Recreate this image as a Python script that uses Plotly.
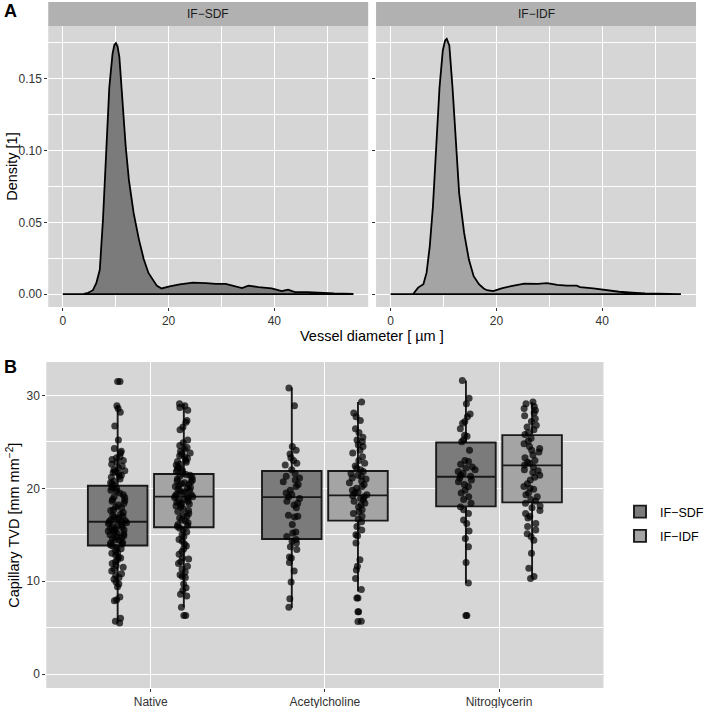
import plotly.graph_objects as go

# ---------------- Panel A: density curves ----------------
sdf_x = [0, 2, 4, 4.8, 5.7, 6.35, 7.0, 7.6, 8.2, 8.8, 9.4, 9.75, 10.05, 10.35, 10.7, 11.3, 11.9,
         12.5, 13.4, 14.4, 15.3, 16.2, 16.85, 17.8, 18.7, 19.6, 20.2, 22.1, 24.6, 27.1, 28.9,
         30.8, 32.6, 33.9, 35.1, 37.0, 39.5, 41.4, 42.6, 43.9, 46.3, 48.8, 51.3, 54.8]
sdf_d = [0, 0, 0.0002, 0.001, 0.0028, 0.0078, 0.017, 0.052, 0.098, 0.144, 0.167, 0.1735, 0.1747,
         0.1725, 0.165, 0.1327, 0.1026, 0.0795, 0.0564, 0.038, 0.0245, 0.0148, 0.0113, 0.0058,
         0.0040, 0.0050, 0.0055, 0.0069, 0.0081, 0.0077, 0.0072, 0.0072, 0.0052, 0.0042, 0.0060,
         0.0049, 0.0040, 0.0021, 0.0032, 0.0015, 0.0015, 0.0009, 0.0005, 0.0002]

idf_x = [0, 3, 4.3, 5.2, 6.2, 6.8, 7.4, 8.0, 8.6, 9.25, 9.87, 10.3, 10.61, 11.1, 11.7, 12.3,
         12.96, 13.9, 14.8, 15.7, 16.7, 17.6, 18.2, 19.4, 20.98, 22.8, 25.3, 27.8, 29.6, 31.5,
         33.3, 35.2, 35.8, 38.3, 40.7, 43.2, 45.7, 48.1, 54.9]
idf_d = [0, 0, 0.0003, 0.0046, 0.007, 0.015, 0.0333, 0.061, 0.1026, 0.144, 0.1696, 0.1765,
         0.1777, 0.173, 0.144, 0.105, 0.0703, 0.0426, 0.0241, 0.0125, 0.007, 0.004, 0.0028,
         0.0021, 0.004, 0.0056, 0.0074, 0.0072, 0.0077, 0.0065, 0.006, 0.006, 0.0049, 0.004,
         0.0028, 0.0017, 0.001, 0.0005, 0.0]

facet_labels = ["IF−SDF", "IF−IDF"]

# ---------------- Panel B: box plots ----------------
cats = ["Native", "Acetylcholine", "Nitroglycerin"]

sdf_q1 = [13.85, 14.55, 18.06]
sdf_med = [16.4, 19.05, 21.25]
sdf_q3 = [20.28, 21.86, 24.94]
sdf_lo = [5.6, 7.15, 9.78]
sdf_hi = [28.95, 30.85, 31.6]

idf_q1 = [15.8, 16.52, 18.49]
idf_med = [19.1, 19.24, 22.47]
idf_q3 = [21.54, 21.86, 25.73]
idf_lo = [7.2, 8.88, 10.5]
idf_hi = [29.1, 29.3, 29.3]

# outliers drawn by the boxplot (at box centre)
sdf_outliers = {"Native": [31.5], "Acetylcholine": [], "Nitroglycerin": [6.3]}
idf_outliers = {"Native": [6.3], "Acetylcholine": [8.2, 6.7, 5.66], "Nitroglycerin": []}

# jittered observations
native_sdf = [31.5, 28.9, 28.6, 28.2, 26.7, 25.2, 24.3, 24.0, 23.8, 23.4, 23.3, 23.1, 23.0, 22.8,
              22.6, 22.4, 22.2, 22.0, 21.9, 21.8, 21.7, 21.6, 21.4, 21.3, 21.2, 21.0, 20.8, 20.6,
              20.5, 20.3, 20.1, 20.0, 19.8, 19.7, 19.5, 19.3, 19.1, 19.0, 18.8, 18.7, 18.6, 18.4,
              18.2, 18.0, 17.9, 17.7, 17.6, 17.4, 17.2, 17.1, 17.0, 16.9, 16.8, 16.7, 16.6, 16.5,
              16.4, 16.4, 16.3, 16.2, 16.1, 16.0, 15.9, 15.8, 15.7, 15.6, 15.5, 15.5, 15.4, 15.3,
              15.2, 15.1, 15.0, 14.9, 14.8, 14.7, 14.6, 14.5, 14.4, 14.2, 14.1, 14.0, 13.9, 13.8,
              13.6, 13.5, 13.3, 13.1, 13.0, 12.8, 12.6, 12.5, 12.3, 12.1, 11.9, 11.7, 11.5, 11.3,
              11.1, 10.8, 10.6, 10.4, 10.2, 9.9, 9.7, 9.4, 8.3, 8.0, 7.9, 6.0, 5.7, 5.5]
native_idf = [29.1, 28.9, 28.7, 28.4, 27.3, 27.1, 26.6, 26.3, 25.2, 24.9, 24.6, 24.4, 24.2, 24.0,
              23.8, 23.7, 23.5, 23.4, 23.2, 23.0, 22.9, 22.8, 22.6, 22.5, 22.3, 22.2, 22.0, 21.9,
              21.8, 21.6, 21.5, 21.4, 21.3, 21.2, 21.0, 20.9, 20.8, 20.7, 20.6, 20.5, 20.4, 20.3,
              20.2, 20.1, 20.0, 19.9, 19.8, 19.7, 19.6, 19.5, 19.4, 19.3, 19.2, 19.1, 19.1, 19.0,
              18.9, 18.8, 18.7, 18.6, 18.5, 18.4, 18.3, 18.2, 18.1, 18.0, 17.8, 17.6, 17.5, 17.3,
              17.1, 17.0, 16.8, 16.6, 16.5, 16.3, 16.1, 16.0, 15.9, 15.7, 15.5, 15.3, 15.0, 14.8,
              14.5, 14.3, 14.0, 13.8, 13.5, 13.2, 12.9, 12.5, 12.4, 12.1, 11.9, 11.6, 11.3, 11.0,
              10.7, 10.5, 10.4, 9.7, 9.3, 9.0, 8.6, 8.4, 7.2, 6.3]
acetyl_sdf = [30.8, 28.9, 24.5, 24.1, 23.7, 23.3, 23.0, 22.7, 22.5, 22.0, 21.6, 21.3, 21.1, 20.9,
              20.7, 20.4, 20.2, 19.8, 19.5, 19.3, 19.1, 18.9, 18.6, 18.4, 18.2, 17.9, 17.1, 17.0,
              16.9, 16.1, 15.3, 15.2, 14.8, 14.5, 14.3, 14.1, 13.7, 13.4, 12.6, 12.5, 12.0, 11.1,
              9.9, 8.1, 7.2]
acetyl_idf = [29.3, 28.1, 27.7, 27.3, 26.4, 26.0, 25.5, 25.2, 25.0, 24.7, 24.5, 24.1, 23.8, 23.4,
              23.0, 22.7, 22.4, 22.2, 22.0, 21.8, 21.6, 21.4, 21.3, 21.1, 21.0, 20.8, 20.6, 20.4,
              20.2, 20.0, 19.8, 19.6, 19.5, 19.3, 19.2, 19.1, 18.9, 18.8, 18.6, 18.4, 18.2, 18.0,
              17.7, 17.5, 17.3, 17.0, 16.7, 16.4, 15.9, 15.5, 15.0, 14.9, 14.1, 12.3, 11.6, 11.2,
              10.3, 9.1, 8.2, 6.7, 5.7]
nitro_sdf = [31.6, 29.7, 29.1, 28.0, 27.7, 27.2, 27.0, 26.4, 25.7, 25.6, 25.2, 25.0, 24.1, 23.0,
             22.9, 22.6, 22.3, 22.2, 22.0, 21.8, 21.6, 21.4, 21.3, 21.1, 20.9, 20.7, 20.4, 20.2,
             19.8, 19.5, 19.1, 18.8, 18.4, 18.0, 17.7, 17.3, 16.6, 16.2, 15.4, 14.6, 13.7, 12.0,
             9.8, 6.3]
nitro_idf = [29.3, 29.1, 28.8, 28.6, 28.4, 28.1, 27.8, 27.5, 27.2, 26.8, 26.6, 26.3, 26.0, 25.8,
             25.4, 25.1, 24.8, 24.5, 24.3, 24.1, 23.9, 23.6, 23.3, 23.0, 22.8, 22.7, 22.5, 22.3,
             22.0, 21.9, 21.7, 21.4, 21.2, 20.9, 20.5, 20.2, 20.0, 19.9, 19.5, 19.3, 19.1, 18.8,
             18.6, 18.4, 18.1, 17.9, 17.6, 17.3, 17.0, 16.8, 16.2, 15.9, 15.5, 15.1, 14.8, 14.4,
             13.0, 11.4, 10.5, 10.3]

sdf_points = {"Native": native_sdf, "Acetylcholine": acetyl_sdf, "Nitroglycerin": nitro_sdf}
idf_points = {"Native": native_idf, "Acetylcholine": acetyl_idf, "Nitroglycerin": nitro_idf}

# ---------------- styling ----------------
W, H = 709, 708
PANEL = "#d6d6d6"
STRIP = "#b1b1b1"
SDF_FILL = "#7b7b7b"
IDF_FILL = "#a4a4a4"
FONT = "Liberation Sans, Arial, sans-serif"
TICKC = "#333333"

def px_x(p):
    return p / W

def px_y(p):
    return 1 - p / H

fig = go.Figure()

# density traces (closed polygons so the baseline is outlined as in ggplot)
for xs, ds, fill, xa, ya in [(sdf_x, sdf_d, SDF_FILL, "x", "y"),
                             (idf_x, idf_d, IDF_FILL, "x2", "y2")]:
    px_ = list(xs) + [xs[-1], xs[0]]
    py_ = list(ds) + [0, 0]
    fig.add_trace(go.Scatter(x=px_, y=py_, mode="lines", fill="toself", fillcolor=fill,
                             line=dict(color="black", width=1.8), xaxis=xa, yaxis=ya,
                             showlegend=False, hoverinfo="skip"))

# box traces with precomputed stats
for name, q1, med, q3, lo, hi, fill, grp in [
        ("IF−SDF", sdf_q1, sdf_med, sdf_q3, sdf_lo, sdf_hi, SDF_FILL, "sdf"),
        ("IF−IDF", idf_q1, idf_med, idf_q3, idf_lo, idf_hi, IDF_FILL, "idf")]:
    fig.add_trace(go.Box(x=cats, q1=q1, median=med, q3=q3, lowerfence=lo, upperfence=hi,
                         name=name, fillcolor=fill, line=dict(color="#1a1a1a", width=1.9),
                         whiskerwidth=0, boxpoints=False, offsetgroup=grp, alignmentgroup="b",
                         xaxis="x3", yaxis="y3", legendgroup=grp, showlegend=True))

# jittered points + outliers
for pts, outs, grp in [(sdf_points, sdf_outliers, "sdf"), (idf_points, idf_outliers, "idf")]:
    xs, ys = [], []
    for c in cats:
        xs += [c] * len(pts[c])
        ys += pts[c]
    fig.add_trace(go.Box(x=xs, y=ys, boxpoints="all", jitter=0.32, pointpos=0,
                         fillcolor="rgba(0,0,0,0)", line=dict(color="rgba(0,0,0,0)", width=0),
                         marker=dict(color="rgba(0,0,0,0.72)", size=7, line=dict(width=0)),
                         offsetgroup=grp, alignmentgroup="b", xaxis="x3", yaxis="y3",
                         showlegend=False, hoverinfo="y"))
    ox, oy = [], []
    for c in cats:
        ox += [c] * len(outs[c])
        oy += outs[c]
    fig.add_trace(go.Box(x=ox, y=oy, boxpoints="all", jitter=0, pointpos=0,
                         fillcolor="rgba(0,0,0,0)", line=dict(color="rgba(0,0,0,0)", width=0),
                         marker=dict(color="rgba(0,0,0,0.72)", size=7, line=dict(width=0)),
                         offsetgroup=grp, alignmentgroup="b", xaxis="x3", yaxis="y3",
                         showlegend=False, hoverinfo="y"))

tickfont = dict(family=FONT, size=12, color=TICKC)
common_axis = dict(showline=False, zeroline=False, ticks="outside", ticklen=3, tickwidth=1,
                   tickcolor=TICKC, tickfont=tickfont, gridcolor="white", gridwidth=1.2)

xA = dict(common_axis, range=[-2.75, 57.75], tickvals=[0, 20, 40], ticktext=["0", "20", "40"],
          minor=dict(tickvals=[10, 30, 50], showgrid=True, gridcolor="white", gridwidth=0.6, ticks=""))
yA = dict(common_axis, range=[-0.0089, 0.1866], tickvals=[0, 0.05, 0.10, 0.15],
          ticktext=["0.00", "0.05", "0.10", "0.15"],
          minor=dict(tickvals=[0.025, 0.075, 0.125, 0.175], showgrid=True, gridcolor="white",
                     gridwidth=0.6, ticks=""))

a1 = [px_x(49), px_x(374)]
a2 = [px_x(382), px_x(707)]
aY = [px_y(307), px_y(26)]

fig.update_layout(
    width=W, height=H, margin=dict(l=0, r=0, t=0, b=0),
    paper_bgcolor="white", plot_bgcolor=PANEL,
    font=dict(family=FONT, color="black"),
    boxmode="group", boxgap=0.24, boxgroupgap=0.1,
    xaxis=dict(xA, domain=a1, anchor="y"),
    yaxis=dict(yA, domain=aY, anchor="x"),
    xaxis2=dict(xA, domain=a2, anchor="y2"),
    yaxis2=dict(yA, domain=aY, anchor="x2", showticklabels=False),
    xaxis3=dict(common_axis, domain=[px_x(47), px_x(613)], anchor="y3", type="category",
                categoryorder="array", categoryarray=cats, range=[-0.6, 2.6],
                tickfont=dict(family=FONT, size=12, color=TICKC)),
    yaxis3=dict(common_axis, domain=[px_y(688), px_y(362)], anchor="x3", range=[-1.5, 33.6],
                tickvals=[0, 10, 20, 30],
                minor=dict(tickvals=[5, 15, 25], showgrid=True, gridcolor="white",
                           gridwidth=0.6, ticks="")),
    legend=dict(x=px_x(630), y=px_y(524), xanchor="left", yanchor="middle",
                bgcolor="rgba(0,0,0,0)", font=dict(family=FONT, size=12.5, color="black"),
                tracegroupgap=5, itemwidth=30),
    showlegend=True,
)

shapes = []
annotations = []
for dom, lab in zip([a1, a2], facet_labels):
    shapes.append(dict(type="rect", xref="paper", yref="paper", x0=dom[0], x1=dom[1],
                       y0=aY[1], y1=px_y(2), fillcolor=STRIP, line=dict(width=0), layer="below"))
    annotations.append(dict(text=lab, xref="paper", yref="paper", x=(dom[0] + dom[1]) / 2,
                            y=px_y(14), xanchor="center", yanchor="middle", showarrow=False,
                            font=dict(family=FONT, size=12, color="#1a1a1a")))

annotations += [
    dict(text="<b>A</b>", xref="paper", yref="paper", x=px_x(2), y=px_y(11), xanchor="left",
         yanchor="middle", showarrow=False, font=dict(family=FONT, size=18, color="black")),
    dict(text="<b>B</b>", xref="paper", yref="paper", x=px_x(2), y=px_y(367), xanchor="left",
         yanchor="middle", showarrow=False, font=dict(family=FONT, size=18, color="black")),
    dict(text="Density [1]", xref="paper", yref="paper", x=px_x(12), y=px_y(166),
         xanchor="center", yanchor="middle", textangle=-90, showarrow=False,
         font=dict(family=FONT, size=14.5, color="black")),
    dict(text="Vessel diameter [ µm ]", xref="paper", yref="paper", x=px_x(378), y=px_y(336),
         xanchor="center", yanchor="middle", showarrow=False,
         font=dict(family=FONT, size=14.5, color="black")),
    dict(text="Capillary TVD [mm mm<sup>−2</sup>]", xref="paper", yref="paper", x=px_x(13),
         y=px_y(525), xanchor="center", yanchor="middle", textangle=-90, showarrow=False,
         font=dict(family=FONT, size=14.5, color="black")),
]
fig.update_layout(shapes=shapes, annotations=annotations)

fig.write_html("out.html")
